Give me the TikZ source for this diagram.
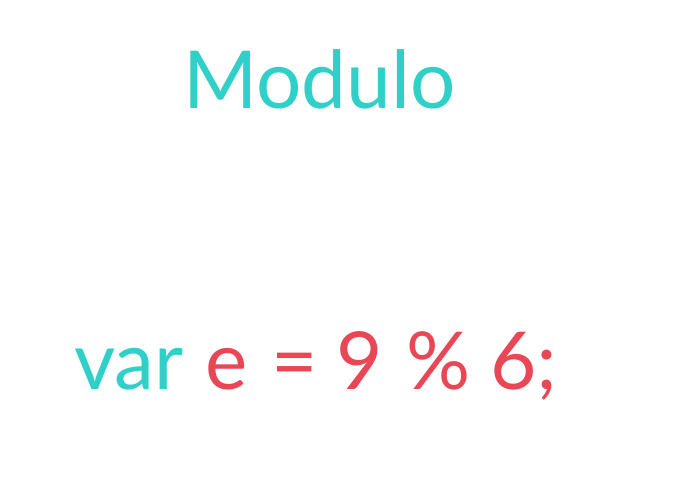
\documentclass[tikz,border=0pt]{standalone}
\usepackage{fontspec}
\setmainfont{Lato}
\usetikzlibrary{positioning}
\definecolor{codeteal}{RGB}{48, 208, 200}
\definecolor{codered}{RGB}{232, 72, 86}

\begin{document}
\begin{tikzpicture}[x=1pt, y=-1pt,
    bigtext/.style={inner sep=0pt, anchor=base west, font=\fontsize{80}{90}\selectfont},
    keyword/.style={bigtext, text=codeteal},
    value/.style={bigtext, text=codered}]
            \useasboundingbox (0,0) rectangle (685,489);
            \node[keyword] (title) at (183,109) {Modulo};
            \node[keyword] (kw)    at ( 74,389) {var};
            \node[value]   (name)  at (205,389) {e};
            \node[value]   (eq)    at (271,389) {=};
            \node[value]   (nine)  at (336,389) {9};
            \node[value]   (mod)   at (406,389) {\%};
            \node[value]   (six)   at (490,389) {6;};
\end{tikzpicture}
\end{document}
